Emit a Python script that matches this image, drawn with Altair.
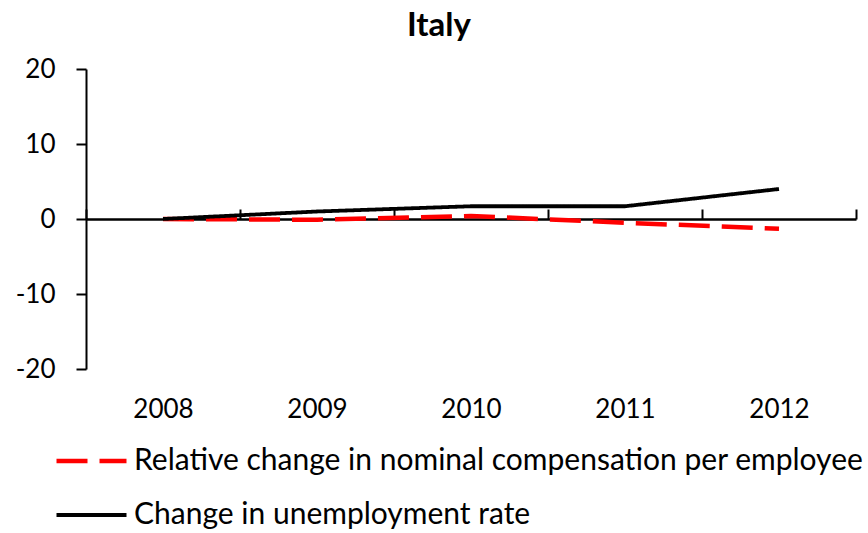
import altair as alt
import pandas as pd

years = [2008, 2009, 2010, 2011, 2012]
comp_change = [0.0, -0.1, 0.4, -0.5, -1.3]
unemp_change = [0.0, 1.0, 1.7, 1.7, 4.0]
series_names = ["Relative change in nominal compensation per employee",
                "Change in unemployment rate"]
tick_bounds = [2007.5, 2008.5, 2009.5, 2010.5, 2011.5, 2012.5]
y_ticks = [-20, -10, 0, 10, 20]

rows = []
for y, v in zip(years, comp_change):
    rows.append({"year": y, "value": v, "series": series_names[0]})
for y, v in zip(years, unemp_change):
    rows.append({"year": y, "value": v, "series": series_names[1]})
df = pd.DataFrame(rows)

FONT = "Lato"
xscale = alt.Scale(domain=[2007.5, 2012.5], nice=False, zero=False)
yscale = alt.Scale(domain=[-20, 20], nice=False)

yaxis = alt.Axis(values=y_ticks, title=None, grid=False, tickSize=10, tickWidth=2,
                 tickColor="black", domainColor="black", domainWidth=2,
                 labelFontSize=26, labelFont=FONT, labelColor="black",
                 labelPadding=21, labelExpr="'' + datum.value")

leg = alt.Legend(title=None, orient="none", legendX=-32, legendY=375,
                 direction="vertical", symbolType="stroke",
                 symbolSize=4900, symbolStrokeWidth=4.3, clipHeight=34,
                 labelFontSize=30, labelFont=FONT, labelColor="black",
                 labelOffset=5, rowPadding=20, labelLimit=0)

base = alt.Chart(df)

lines = base.mark_line(strokeCap="butt").encode(
    x=alt.X("year:Q", scale=xscale,
            axis=alt.Axis(values=tick_bounds, labels=False, title=None, grid=False,
                          tickSize=10, tickWidth=2, tickColor="black",
                          domainColor="black", domainWidth=2.5, offset=-150)),
    y=alt.Y("value:Q", scale=yscale, axis=yaxis),
    color=alt.Color("series:N",
                    scale=alt.Scale(domain=series_names, range=["#ff0000", "#000000"]),
                    legend=leg),
    strokeDash=alt.StrokeDash("series:N",
                              scale=alt.Scale(domain=series_names, range=[[31, 12], [1, 0]]),
                              legend=leg),
    strokeWidth=alt.StrokeWidth("series:N",
                                scale=alt.Scale(domain=series_names, range=[4.5, 3.8]),
                                legend=None),
)

labels = base.mark_point(opacity=0).encode(
    x=alt.X("year:Q", scale=xscale,
            axis=alt.Axis(values=years, format="d", title=None, grid=False, ticks=False,
                          domain=False, labelFontSize=26, labelFont=FONT,
                          labelColor="black", labelPadding=27)),
    y=alt.Y("value:Q", scale=yscale, axis=yaxis),
)

chart = alt.layer(labels, lines).resolve_axis(x="independent").properties(
    width=770, height=300,
    title=alt.TitleParams("Italy", fontSize=33, font=FONT, fontWeight="bold",
                          anchor="middle", dx=-32, offset=13, color="black"),
    autosize=alt.AutoSizeParams(type="none"),
    padding={"left": 86, "top": 69, "right": 12, "bottom": 164},
).configure_view(stroke=None)

chart.save("out.html", embed_options={"renderer": "svg", "actions": False})
